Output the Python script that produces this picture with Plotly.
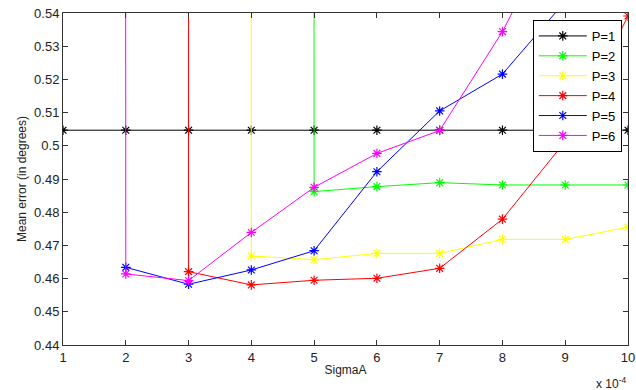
import plotly.graph_objects as go

# SigmaA (x 10^-4)
sigma = [1, 2, 3, 4, 5, 6, 7, 8, 9, 10]

# Mean error (degrees); 50.0 marks values far off the top of the chart
p1 = [0.5047, 0.5047, 0.5047, 0.5047, 0.5047, 0.5047, 0.5047, 0.5047, 0.5047, 0.5047]
p2 = [50.0, 50.0, 50.0, 50.0, 0.4862, 0.4877, 0.4889, 0.4882, 0.4882, 0.4882]
p3 = [50.0, 50.0, 50.0, 0.4668, 0.4657, 0.4676, 0.4676, 0.4718, 0.4718, 0.4755]
p4 = [50.0, 50.0, 0.4621, 0.4581, 0.4595, 0.4601, 0.4631, 0.4779, 0.5013, 0.5391]
p5 = [None, 0.4634, 0.4583, 0.4626, 0.4684, 0.4922, 0.5105, 0.5216, 0.5435, 0.5700]
p6 = [50.0, 0.4614, 0.4594, 0.4739, 0.4875, 0.4977, 0.5046, 0.5344, 0.5710, 0.6050]

series_names = ["P=1", "P=2", "P=3", "P=4", "P=5", "P=6"]
series_vals = [p1, p2, p3, p4, p5, p6]
colors = ["#000000", "#00ff00", "#ffff00", "#ff0000", "#0000ff", "#ff00ff"]

y_ticks = [0.44, 0.45, 0.46, 0.47, 0.48, 0.49, 0.50, 0.51, 0.52, 0.53, 0.54]
y_tick_text = ["0.44", "0.45", "0.46", "0.47", "0.48", "0.49", "0.5", "0.51", "0.52", "0.53", "0.54"]
x_ticks = [1, 2, 3, 4, 5, 6, 7, 8, 9, 10]

fig = go.Figure()
for name, vals, c in zip(series_names, series_vals, colors):
    fig.add_trace(go.Scatter(
        x=sigma, y=vals, name=name, mode="lines+markers",
        line=dict(color=c, width=1),
        marker=dict(symbol="asterisk-open", size=8, color=c, line=dict(color=c, width=1.2)),
        connectgaps=False,
    ))

font = "Liberation Sans, Arial, Helvetica, sans-serif"
fig.update_layout(
    width=636, height=390,
    margin=dict(l=63, r=8, t=13, b=45),
    paper_bgcolor="white", plot_bgcolor="white",
    font=dict(family=font, size=13, color="#222"),
    showlegend=True,
    legend=dict(
        x=0.989, y=0.979, xanchor="right", yanchor="top",
        bgcolor="white", bordercolor="#000", borderwidth=1,
        font=dict(family=font, size=13, color="#000"),
        itemwidth=48, tracegroupgap=0,
    ),
    xaxis=dict(
        range=[1, 10], tickvals=x_ticks, ticks="inside", ticklen=5,
        showgrid=False, zeroline=False, showline=True, linecolor="#333",
        linewidth=1, mirror="ticks", tickcolor="#333", automargin=False,
        tickfont=dict(size=13),
        title=dict(text="SigmaA", font=dict(size=12), standoff=2),
    ),
    yaxis=dict(
        range=[0.44, 0.54], tickvals=y_ticks, ticktext=y_tick_text,
        ticks="inside", ticklen=5, showgrid=False, zeroline=False,
        showline=True, linecolor="#333", linewidth=1, mirror="ticks",
        tickcolor="#333", automargin=False, tickfont=dict(size=13),
        title=dict(text="Mean error (in degrees)", font=dict(size=12), standoff=4),
    ),
    annotations=[dict(
        text="x 10<sup>-4</sup>", xref="paper", yref="paper",
        x=1.0, y=0, xanchor="right", yanchor="top", yshift=-28,
        showarrow=False, font=dict(family=font, size=12, color="#222"),
    )],
)

fig.write_html(
    "out.html",
    config={"displayModeBar": False},
    post_script="document.body.style.margin='0';document.body.style.overflow='hidden';",
)
